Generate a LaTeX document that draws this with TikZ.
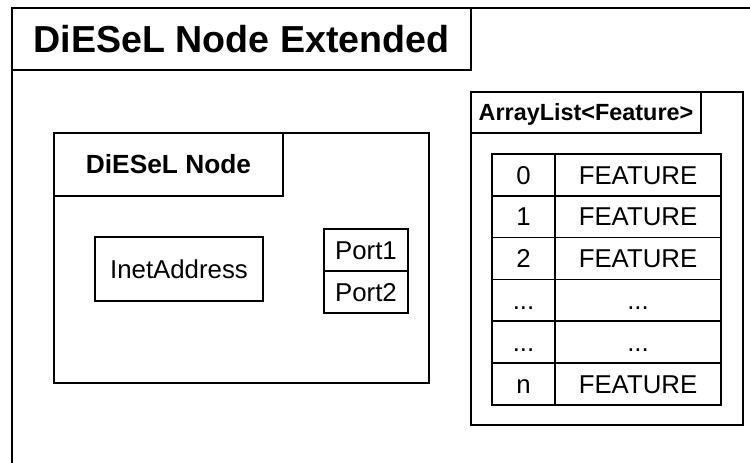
\documentclass[tikz,border=0pt]{standalone}
\usepackage{fontspec}
\setmainfont{Liberation Sans}
\usetikzlibrary{positioning}

\tikzset{
  caja/.style={draw, line width=1.5pt, inner sep=0pt, outer sep=0pt, anchor=north west},
  titulo/.style={font=\bfseries\fontsize{#1}{#1}\selectfont, text depth=0pt},
  texto/.style={font=\fontsize{25.8}{30}\selectfont, text height=18.4pt, text depth=0pt},
  indice/.style={caja, texto, minimum width=63pt, minimum height=41.8pt},
  celda/.style={caja, texto, minimum width=166pt, minimum height=41.8pt}
}

\begin{document}
\begin{tikzpicture}[x=1pt, y=-1pt]

  % Marco
  \useasboundingbox (0,0) rectangle (750,463);
  \node[caja, line width=2pt, minimum width=760pt, minimum height=480pt] (marco) at (12,8) {};
  \node[caja, titulo=37.6, text height=26.9pt, minimum width=459pt, minimum height=62pt] (extendido) at (12,8) {DiESeL Node Extended};

  % Nodo DiESeL
  \node[caja, minimum width=375pt, minimum height=250pt] (nodo) at (54,133) {};
  \node[caja, titulo=26.3, text height=18.8pt, minimum width=229pt, minimum height=63pt] (nodotit) at (54,133) {DiESeL Node};
  \node[caja, texto, minimum width=168pt, minimum height=64pt] (inet) at (95,237) {InetAddress};
  \node[caja, texto, minimum width=84pt, minimum height=42pt] (port1) at (324,229) {Port1};
  \node[caja, texto, minimum width=84pt, minimum height=42pt, below=0pt of port1] (port2) {Port2};

  % Lista de features
  \node[caja, minimum width=272pt, minimum height=333pt] (lista) at (471,92) {};
  \node[caja, titulo=23.4, text height=16.8pt, minimum width=230pt, minimum height=41pt] (listatit) at (471,92) {ArrayList<Feature>};

  % Tabla
  \node[indice] (i0) at (492,154) {0};
  \node[celda, right=0pt of i0] (f0) {FEATURE};
  \node[indice, below=0pt of i0] (i1) {1};
  \node[celda, right=0pt of i1] (f1) {FEATURE};
  \node[indice, below=0pt of i1] (i2) {2};
  \node[celda, right=0pt of i2] (f2) {FEATURE};
  \node[indice, below=0pt of i2] (i3) {...};
  \node[celda, right=0pt of i3] (f3) {...};
  \node[indice, below=0pt of i3] (i4) {...};
  \node[celda, right=0pt of i4] (f4) {...};
  \node[indice, below=0pt of i4] (i5) {n};
  \node[celda, right=0pt of i5] (f5) {FEATURE};

\end{tikzpicture}
\end{document}
